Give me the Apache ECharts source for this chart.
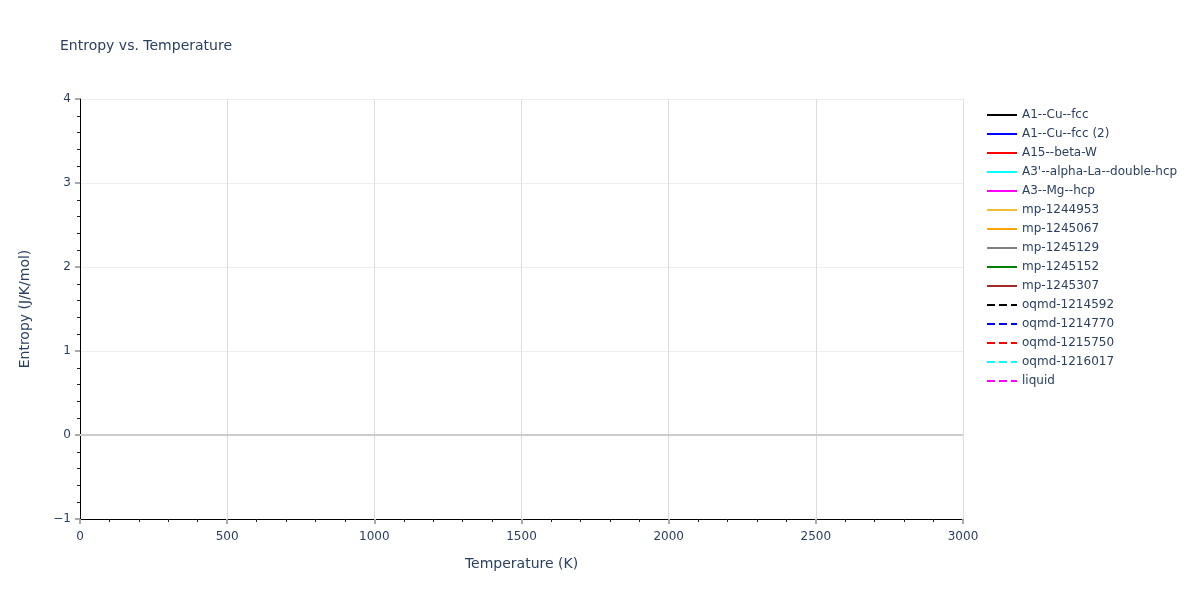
<!DOCTYPE html>
<html>
<head>
<meta charset="utf-8">
<script src="https://cdn.jsdelivr.net/npm/echarts@6/dist/echarts.min.js"></script>
<style>html,body{margin:0;padding:0;background:#fff}#c{width:1200px;height:600px}</style>
</head>
<body>
<div id="c"></div>
<script>
// Series names, colours and dash styles (the plot contains no visible data points)
const seriesNames = ["A1--Cu--fcc","A1--Cu--fcc (2)","A15--beta-W","A3'--alpha-La--double-hcp","A3--Mg--hcp","mp-1244953","mp-1245067","mp-1245129","mp-1245152","mp-1245307","oqmd-1214592","oqmd-1214770","oqmd-1215750","oqmd-1216017","liquid"];
const seriesColors = ["#000000","#0000ff","#ff0000","#00ffff","#ff00ff","#f0c030","#ffa500","#808080","#008000","#a52a2a","#000000","#0000ff","#ff0000","#00ffff","#ff00ff"];
const seriesDash = ["solid","solid","solid","solid","solid","solid","solid","solid","solid","solid","dashed","dashed","dashed","dashed","dashed"];
// Data values per series: empty in the reference
const seriesData = seriesNames.map(() => []);
const xTicks = [0, 500, 1000, 1500, 2000, 2500, 3000];
const yTicks = [-1, 0, 1, 2, 3, 4];

const txt = '#2a3f5f';
const FF = 'DejaVu Sans, Verdana, sans-serif';
const fmt = (v) => String(v).replace('-', '\u2212');
const chart = echarts.init(document.getElementById('c'));
chart.setOption({
  animation: false,
  title: {text: 'Entropy vs. Temperature', left: 55, top: 34, textStyle: {fontFamily: FF, fontSize: 14, fontWeight: 'normal', color: txt}},
  grid: {left: 80, right: 237, top: 99, bottom: 81},
  legend: {
    orient: 'vertical', left: 986, top: 109, padding: 0, itemWidth: 30, itemHeight: 14, itemGap: 7,
    itemStyle: {opacity: 0, borderWidth: 0},
    textStyle: {fontFamily: FF, fontSize: 12, color: txt},
    data: seriesNames.map((n) => ({name: n}))
  },
  xAxis: {
    type: 'value', min: xTicks[0], max: xTicks[xTicks.length-1], interval: 500,
    name: 'Temperature (K)', nameLocation: 'middle', nameGap: 38,
    nameTextStyle: {fontFamily: FF, fontSize: 14, color: txt},
    axisLine: {show: true, onZero: false, lineStyle: {color: '#000', width: 1}},
    axisTick: {show: true, length: 5, lineStyle: {color: '#aaaaaa', width: 2}},
    minorTick: {show: true, splitNumber: 5, length: 3, lineStyle: {color: '#222'}},
    axisLabel: {fontFamily: FF, fontSize: 12, color: txt, margin: 12, formatter: fmt},
    splitLine: {show: true, lineStyle: {color: '#dddddd', width: 1}}
  },
  yAxis: {
    type: 'value', min: yTicks[0], max: yTicks[yTicks.length-1], interval: 1,
    name: 'Entropy (J/K/mol)', nameLocation: 'middle', nameGap: 48,
    nameTextStyle: {fontFamily: FF, fontSize: 14, color: txt},
    axisLine: {show: true, onZero: false, lineStyle: {color: '#000', width: 1}},
    axisTick: {show: true, length: 5, lineStyle: {color: '#aaaaaa', width: 2}},
    minorTick: {show: true, splitNumber: 5, length: 3, lineStyle: {color: '#222'}},
    axisLabel: {fontFamily: FF, fontSize: 12, color: txt, margin: 9, formatter: fmt},
    splitLine: {show: true, lineStyle: {color: '#eeeeee', width: 1}}
  },
  series: seriesNames.map((n, i) => {
    const s = {
      name: n, type: 'line', showSymbol: false, symbol: 'none',
      data: seriesData[i],
      itemStyle: {color: seriesColors[i]},
      lineStyle: {color: seriesColors[i], width: 2, type: seriesDash[i]}
    };
    if (i === 0) {
      s.markLine = {silent: true, symbol: 'none', label: {show: false},
        lineStyle: {color: '#cccccc', width: 2, type: 'solid'},
        data: [{yAxis: 0}]};
    }
    return s;
  })
});
</script>
</body>
</html>
